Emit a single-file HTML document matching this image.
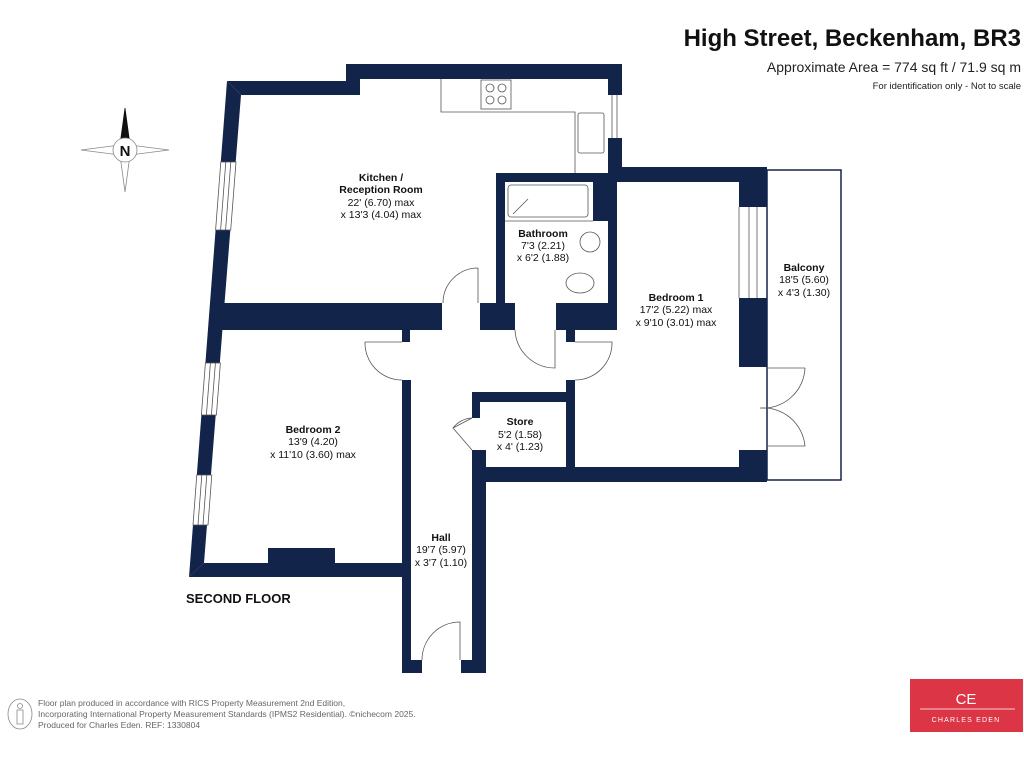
<!DOCTYPE html>
<html><head><meta charset="utf-8"><style>
html,body{margin:0;padding:0;background:#fff;}
svg{display:block;font-family:"Liberation Sans",Arial,sans-serif;}
</style></head><body>
<svg width="1024" height="768" viewBox="0 0 1024 768" xmlns="http://www.w3.org/2000/svg">
<rect width="1024" height="768" fill="#fff"/>
<!-- title -->
<text x="1021" y="46" text-anchor="end" font-size="24" font-weight="bold" fill="#111">High Street, Beckenham, BR3</text>
<text x="1021" y="72" text-anchor="end" font-size="14" fill="#222">Approximate Area = 774 sq ft / 71.9 sq m</text>
<text x="1021" y="89" text-anchor="end" font-size="9.5" fill="#222">For identification only - Not to scale</text>

<!-- compass -->
<g transform="translate(125,150)" stroke="#888" stroke-width="0.8" fill="#fff">
<polygon points="0,-42 5,-5 0,0 -5,-5" fill="#111" stroke="#111"/>
<polygon points="0,42 5,5 0,0 -5,5"/>
<polygon points="-44,0 -5,-5 0,0 -5,5"/>
<polygon points="44,0 5,-5 0,0 5,5"/>
<circle r="12" fill="#fff"/>
<text x="0" y="6" text-anchor="middle" font-size="15" font-weight="bold" fill="#111" stroke="none">N</text>
</g>

<g fill="#13244a">
<!-- kitchen top walls -->
<polygon points="346,64 622,64 622,95 608,95 608,79 360,79 360,95 241,95 227,81 346,81"/>
<rect x="608" y="138" width="14" height="35"/>
<!-- left slanted wall -->
<polygon points="227,81 241,95 204,563 189,577"/>
<!-- kitchen bottom wall -->
<rect x="212" y="303" width="230" height="27"/>
<rect x="480" y="303" width="35" height="27"/>
<rect x="402" y="330" width="8" height="12"/>
<!-- bathroom -->
<rect x="496" y="173" width="9" height="130"/>
<rect x="496" y="173" width="126" height="9"/>
<rect x="593" y="182" width="24" height="39"/>
<rect x="608" y="167" width="159" height="15"/>
<rect x="608" y="182" width="9" height="148"/>
<rect x="556" y="303" width="61" height="27"/>
<rect x="566" y="330" width="9" height="12"/>
<!-- bedroom1 right wall -->
<rect x="739" y="170" width="28" height="37"/>
<rect x="739" y="298" width="28" height="69"/>
<rect x="739" y="450" width="28" height="32"/>
<!-- hall / store -->
<rect x="402" y="380" width="9" height="293"/>
<rect x="566" y="380" width="9" height="90"/>
<rect x="472" y="392" width="103" height="10"/>
<rect x="472" y="392" width="8" height="26"/>
<rect x="472" y="450" width="14" height="223"/>
<rect x="472" y="467" width="295" height="15"/>
<rect x="402" y="660" width="20" height="13"/>
<rect x="461" y="660" width="25" height="13"/>
<!-- bedroom2 bottom -->
<polygon points="189,577 204,563 402,563 402,577"/>
<rect x="268" y="548" width="67" height="15"/>
</g>

<!-- windows in slanted wall -->
<g fill="#fff" stroke="#555" stroke-width="0.8">
<polygon points="220.8,162 236,162 230.7,230 215.6,230"/>
<polygon points="205.4,363 220.4,363 216.4,415 201.4,415"/>
<polygon points="196.8,475 211.8,475 208,525 193,525"/>
</g>

<g fill="none" stroke="#555" stroke-width="0.8">
<!-- window lines -->
<line x1="225.8" y1="162" x2="220.6" y2="230"/><line x1="230.8" y1="162" x2="225.6" y2="230"/>
<line x1="210.4" y1="363" x2="206.4" y2="415"/><line x1="215.4" y1="363" x2="211.4" y2="415"/>
<line x1="201.8" y1="475" x2="198" y2="525"/><line x1="206.8" y1="475" x2="203" y2="525"/>
<line x1="612" y1="95" x2="612" y2="138"/><line x1="617" y1="95" x2="617" y2="138"/>
<line x1="749" y1="207" x2="749" y2="298"/><line x1="757" y1="207" x2="757" y2="298"/>
<line x1="739" y1="207" x2="739" y2="298"/>
<!-- kitchen units -->
<polyline points="441,79 441,112 575,112 575,173"/>
<rect x="481" y="80" width="30" height="29"/>
<circle cx="490" cy="88" r="4"/><circle cx="502" cy="88" r="4"/>
<circle cx="490" cy="100" r="4"/><circle cx="502" cy="100" r="4"/>
<rect x="578" y="113" width="26" height="40" rx="2"/>
<!-- bath -->
<rect x="508" y="185" width="80" height="32" rx="3"/>
<line x1="513" y1="214" x2="528" y2="199"/>
<line x1="505" y1="221" x2="593" y2="221"/>
<circle cx="590" cy="242" r="10"/>
<ellipse cx="580" cy="283" rx="14" ry="10"/>
<!-- balcony -->
<rect x="767" y="170" width="74" height="310" stroke="#13244a" stroke-width="1.5"/>
<!-- doors -->
<path d="M478,268 L478,303 M478,268 A35,35 0 0 0 443,303"/>
<path d="M555,330 L555,368 A40,40 0 0 1 515,330"/>
<path d="M575,342 L612,342 A37,37 0 0 1 575,380"/>
<path d="M365,342 L402,342 M365,342 A37,37 0 0 0 402,380"/>
<path d="M472,418 L453,428 L472,450 M453,428 A25,25 0 0 1 472,418"/>
<path d="M460,660 L460,622 A38,38 0 0 0 422,660"/>
<path d="M805,368 L767,368 M805,368 A42,42 0 0 1 760,408 A42,42 0 0 1 805,446 L767,446"/>
</g>

<g fill="#111" text-anchor="middle" font-size="10.5">
<text x="381" y="181" font-weight="bold">Kitchen /</text>
<text x="381" y="193" font-weight="bold">Reception Room</text>
<text x="381" y="206">22' (6.70) max</text>
<text x="381" y="218">x 13'3 (4.04) max</text>
<text x="543" y="237" font-weight="bold">Bathroom</text>
<text x="543" y="249">7'3 (2.21)</text>
<text x="543" y="261">x 6'2 (1.88)</text>
<text x="676" y="301" font-weight="bold">Bedroom 1</text>
<text x="676" y="313">17'2 (5.22) max</text>
<text x="676" y="326">x 9'10 (3.01) max</text>
<text x="804" y="271" font-weight="bold">Balcony</text>
<text x="804" y="283">18'5 (5.60)</text>
<text x="804" y="296">x 4'3 (1.30)</text>
<text x="520" y="425" font-weight="bold">Store</text>
<text x="520" y="438">5'2 (1.58)</text>
<text x="520" y="450">x 4' (1.23)</text>
<text x="313" y="433" font-weight="bold">Bedroom 2</text>
<text x="313" y="445">13'9 (4.20)</text>
<text x="313" y="458">x 11'10 (3.60) max</text>
<text x="441" y="541" font-weight="bold">Hall</text>
<text x="441" y="553">19'7 (5.97)</text>
<text x="441" y="566">x 3'7 (1.10)</text>
</g>
<text x="186" y="603" font-size="13" font-weight="bold" fill="#111">SECOND FLOOR</text>

<!-- footer -->
<g transform="translate(20,714)" fill="none" stroke="#888" stroke-width="0.8">
<ellipse cx="0" cy="0" rx="12" ry="15"/>
<circle cx="0" cy="-8" r="2.5"/>
<path d="M-3,-4 L3,-4 L3,10 L-3,10 Z"/>
</g>
<g font-size="8.5" fill="#666">
<text x="38" y="706">Floor plan produced in accordance with RICS Property Measurement 2nd Edition,</text>
<text x="38" y="717">Incorporating International Property Measurement Standards (IPMS2 Residential).  ©nichecom 2025.</text>
<text x="38" y="728">Produced for Charles Eden.   REF: 1330804</text>
</g>
<rect x="910" y="679" width="113" height="53" fill="#dc3545"/>
<text x="966" y="704" text-anchor="middle" font-size="15" fill="#fff">CE</text>
<line x1="920" y1="709" x2="1015" y2="709" stroke="#fff" stroke-width="0.8"/>
<text x="966" y="722" text-anchor="middle" font-size="7" fill="#fff" letter-spacing="1.2">CHARLES EDEN</text>
</svg>
</body></html>
